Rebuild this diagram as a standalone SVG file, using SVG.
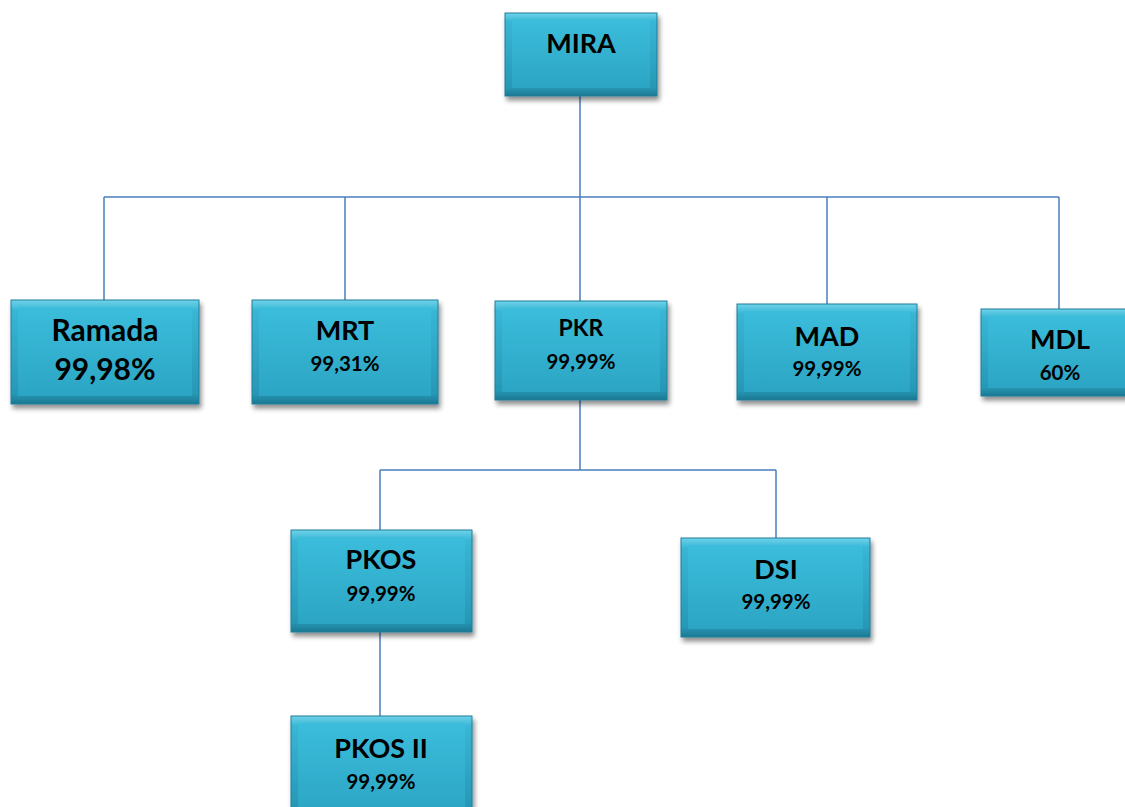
<svg xmlns="http://www.w3.org/2000/svg" width="1125" height="807" viewBox="0 0 1125 807">
<style>
.o{fill:url(#go);stroke:#1f7f99;stroke-width:1;filter:url(#sh)}
.i{fill:url(#gi)}
.t{font-family:Lato,"Open Sans","Liberation Sans",sans-serif;font-weight:bold;fill:#000;text-anchor:middle}
.c{fill:none;stroke:#4a7ebb;stroke-width:1.5}
</style>
<defs>
<linearGradient id="go" x1="0" y1="0" x2="0" y2="1">
<stop offset="0" stop-color="#6fd3ea"/>
<stop offset="0.1" stop-color="#38b6d4"/>
<stop offset="0.9" stop-color="#2798b6"/>
<stop offset="1" stop-color="#1c7892"/>
</linearGradient>
<linearGradient id="gi" x1="0" y1="0" x2="0" y2="1">
<stop offset="0" stop-color="#3bbddb"/>
<stop offset="1" stop-color="#2ca5c4"/>
</linearGradient>
<filter id="sh" x="-10%" y="-10%" width="125%" height="130%">
<feGaussianBlur in="SourceAlpha" stdDeviation="2.5"/>
<feOffset dx="2" dy="4" result="b"/>
<feComponentTransfer><feFuncA type="linear" slope="0.45"/></feComponentTransfer>
<feMerge><feMergeNode/><feMergeNode in="SourceGraphic"/></feMerge>
</filter>
</defs>
<g id="connectors">
<path class="c" d="M580,96 V197 M104,197 H1059 M104,197 V300 M345,197 V300 M580,197 V301 M827,197 V304 M1059,197 V309"/>
<path class="c" d="M580,400 V470 M380,470 H776 M380,470 V530 M776,470 V538"/>
<path class="c" d="M380,632 V716"/>
</g>
<g id="mira">
<rect class="o" x="505" y="13" width="152" height="83"/>
<rect class="i" x="512" y="20" width="138" height="68"/>
<text class="t" x="581" y="53" font-size="27">MIRA</text>
</g>
<g id="ramada">
<rect class="o" x="11" y="300" width="188" height="104"/>
<rect class="i" x="18" y="307" width="174" height="89"/>
<text class="t" x="105" y="341" font-size="30">Ramada</text>
<text class="t" x="105" y="380" font-size="30">99,98%</text>
</g>
<g id="mrt">
<rect class="o" x="252" y="300" width="186" height="104"/>
<rect class="i" x="259" y="307" width="172" height="89"/>
<text class="t" x="345" y="340" font-size="27">MRT</text>
<text class="t" x="345" y="371" font-size="20.5">99,31%</text>
</g>
<g id="pkr">
<rect class="o" x="495" y="301" width="172" height="99"/>
<rect class="i" x="502" y="308" width="158" height="84"/>
<text class="t" x="581" y="336" font-size="23">PKR</text>
<text class="t" x="581" y="369" font-size="20.5">99,99%</text>
</g>
<g id="mad">
<rect class="o" x="737" y="304" width="180" height="96"/>
<rect class="i" x="744" y="311" width="166" height="81"/>
<text class="t" x="827" y="346" font-size="27">MAD</text>
<text class="t" x="827" y="376" font-size="20.5">99,99%</text>
</g>
<g id="mdl">
<rect class="o" x="981" y="309" width="150" height="87"/>
<rect class="i" x="988" y="316" width="145" height="72"/>
<text class="t" x="1060" y="349" font-size="27">MDL</text>
<text class="t" x="1060" y="380" font-size="20.5">60%</text>
</g>
<g id="pkos">
<rect class="o" x="291" y="530" width="181" height="102"/>
<rect class="i" x="298" y="537" width="167" height="87"/>
<text class="t" x="381" y="569" font-size="27">PKOS</text>
<text class="t" x="381" y="601" font-size="20.5">99,99%</text>
</g>
<g id="dsi">
<rect class="o" x="681" y="538" width="189" height="99"/>
<rect class="i" x="688" y="545" width="175" height="84"/>
<text class="t" x="776" y="579" font-size="27">DSI</text>
<text class="t" x="776" y="609" font-size="20.5">99,99%</text>
</g>
<g id="pkos2">
<rect class="o" x="291" y="716" width="181" height="100"/>
<rect class="i" x="298" y="723" width="167" height="90"/>
<text class="t" x="381" y="758" font-size="27">PKOS II</text>
<text class="t" x="381" y="789" font-size="20.5">99,99%</text>
</g>
</svg>
